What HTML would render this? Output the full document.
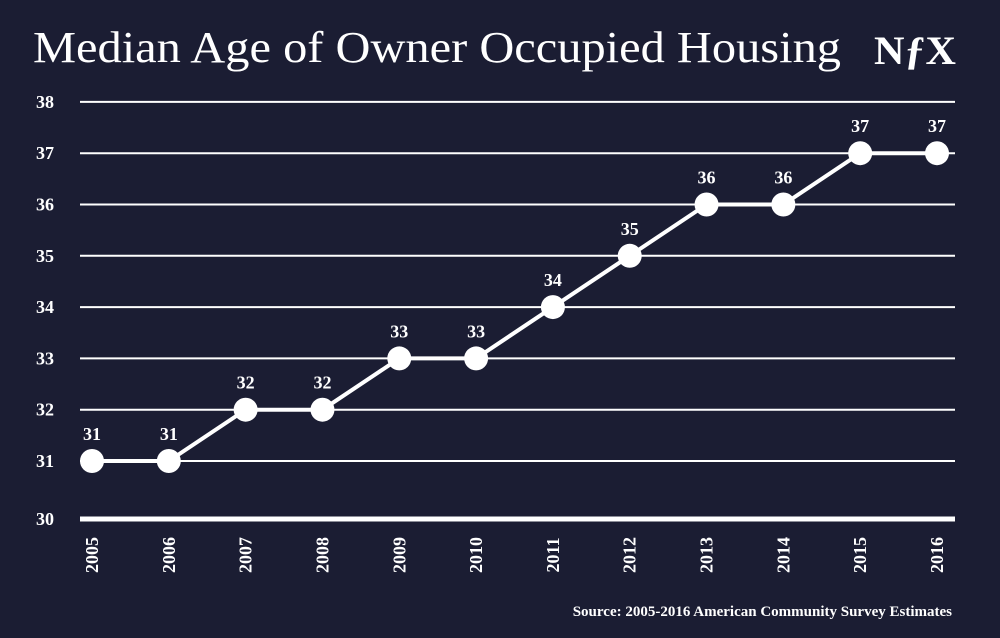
<!DOCTYPE html>
<html><head><meta charset="utf-8"><style>
body{margin:0;background:#1b1d33;}
svg{display:block;font-family:"Liberation Serif",serif;}
</style></head><body>
<svg width="1000" height="638" viewBox="0 0 1000 638">
<rect width="1000" height="638" fill="#1b1d33"/>
<text x="33" y="62" fill="#fff" font-size="44" textLength="808" lengthAdjust="spacingAndGlyphs">Median Age of Owner Occupied Housing</text>
<text x="874" y="64" fill="#fff" font-size="40" font-weight="bold" textLength="82" lengthAdjust="spacingAndGlyphs">NƒX</text>
<g id="grid"></g><g id="line"></g><g id="pts"></g>
<text x="952" y="616" fill="#fff" font-size="15" font-weight="bold" text-anchor="end">Source: 2005-2016 American Community Survey Estimates</text>
</svg>
<script>
const years=[2005,2006,2007,2008,2009,2010,2011,2012,2013,2014,2015,2016];
const values=[31,31,32,32,33,33,34,35,36,36,37,37];
const yTicks=[31,32,33,34,35,36,37,38];
const NS="http://www.w3.org/2000/svg";
const x=i=>92+i*(937-92)/11;
const y=v=>461-(v-31)*51.3;
function mk(t,a,p){const e=document.createElementNS(NS,t);for(const k in a)e.setAttribute(k,a[k]);p.appendChild(e);return e;}
const g=document.getElementById('grid');
yTicks.forEach(v=>{
 const l=mk('line',{x1:80,x2:955,y1:y(v),y2:y(v),stroke:'#fff','stroke-width':2},g);
 
 
 const t=mk('text',{x:54,y:y(v)+6,fill:'#fff','font-size':18,'font-weight':'bold','text-anchor':'end'},g);
 t.textContent=v;
 
 
});
const b=mk('line',{x1:80,x2:955,y1:519,y2:519,stroke:'#fff','stroke-width':5},g);


const bt=mk('text',{x:54,y:525,fill:'#fff','font-size':18,'font-weight':'bold','text-anchor':'end'},g);
bt.textContent='30';


years.forEach((yr,i)=>{
 const t=mk('text',{x:0,y:0,fill:'#fff','font-size':18,'font-weight':'bold','text-anchor':'middle',transform:`translate(${x(i)+6},555) rotate(-90)`},g);
 t.textContent=yr;
 
 
});
const pl=mk('polyline',{points:values.map((v,i)=>x(i)+','+y(v)).join(' '),fill:'none',stroke:'#fff','stroke-width':4},document.getElementById('line'));


const p=document.getElementById('pts');
values.forEach((v,i)=>{
 const c=mk('circle',{cx:x(i),cy:y(v),r:12,fill:'#fff'},p);
 
 
 const t=mk('text',{x:x(i),y:y(v)-21,fill:'#fff','font-size':18,'font-weight':'bold','text-anchor':'middle'},p);
 t.textContent=v;
 
 
});
</script>
</body></html>
